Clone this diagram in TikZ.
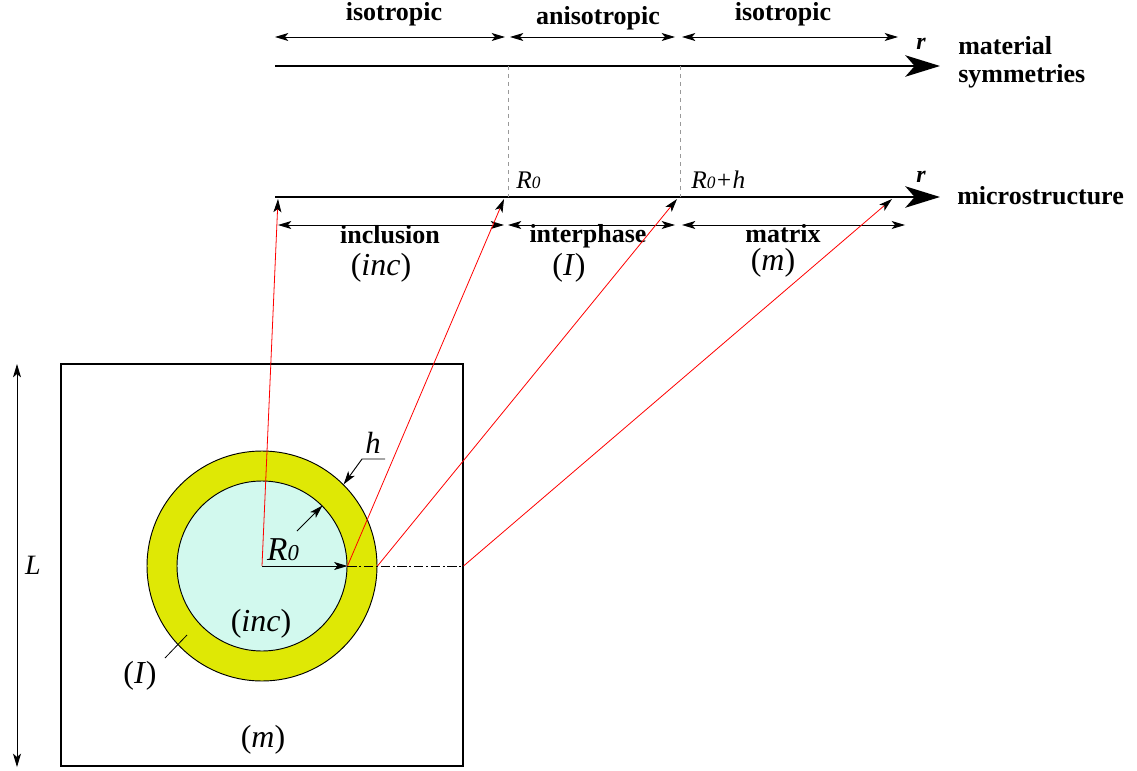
\documentclass[tikz,border=0pt]{standalone}
\usepackage{fontspec}
\setmainfont{Liberation Serif}
\usetikzlibrary{arrows.meta}
\definecolor{ringyellow}{HTML}{DFE805}
\definecolor{incblue}{HTML}{D2F9EE}
\tikzset{
	dimarrow/.style={line width=0.7pt, {Stealth[length=10pt,width=6pt,inset=2.5pt]}-{Stealth[length=10pt,width=6pt,inset=2.5pt]}},
	axisline/.style={line width=2pt, -{Stealth[length=26pt,width=16pt,inset=7pt]}},
	ray/.style={red, line width=0.6pt, -{Stealth[length=10pt,width=6pt,inset=2.5pt,color=black]}},
	guide/.style={gray!80, dashed, line width=0.5pt},
	pointer/.style={line width=0.7pt, -{Stealth[length=10pt,width=6pt,inset=2.5pt]}},
	boldlab/.style={anchor=base, inner sep=0pt, font=\fontsize{19.5}{22}\selectfont\bfseries},
	phase/.style={anchor=base, inner sep=0pt, font=\fontsize{24}{26}\selectfont},
	sym/.style={anchor=base, inner sep=0pt, font=\fontsize{19}{21}\selectfont\itshape}
}
\newcommand{\Rzero}[1]{R{\fontsize{#1}{#1}\selectfont 0}}
\begin{document}
\begin{tikzpicture}[x=0.75pt, y=-0.75pt]
	\useasboundingbox (0,0) rectangle (1137,770);
	% Paths, nodes and wires:
	\coordinate (S0) at (275,66); \coordinate (S1) at (940,66);
	\coordinate (M0) at (275,197); \coordinate (M1) at (940,197);
	\coordinate (GR) at (508,66); \coordinate (GRh) at (680,66);
	\coordinate (MR) at (508,197); \coordinate (MRh) at (680,197);
	\draw[axisline] (S0) -- (S1);
	\draw[axisline] (M0) -- (M1);
	\draw[guide] (GR) -- (MR);
	\draw[guide] (GRh) -- (MRh);
	\coordinate (ia) at (275,37); \coordinate (ib) at (505,37);
	\coordinate (aa) at (510,37); \coordinate (ab) at (675,37);
	\coordinate (ja) at (682,37); \coordinate (jb) at (898,37);
	\draw[dimarrow] (ia) -- (ib);
	\draw[dimarrow] (aa) -- (ab);
	\draw[dimarrow] (ja) -- (jb);
	\coordinate (ca) at (278,225); \coordinate (cb) at (504,225);
	\coordinate (pa) at (508,225); \coordinate (pb) at (675,225);
	\coordinate (ma) at (682,225); \coordinate (mb) at (905,225);
	\draw[dimarrow] (ca) -- (cb);
	\draw[dimarrow] (pa) -- (pb);
	\draw[dimarrow] (ma) -- (mb);
	\node[boldlab] (iso1) at (394,21) {isotropic};
	\node[boldlab] (aniso) at (598,25) {anisotropic};
	\node[boldlab] (iso2) at (783,21) {isotropic};
	\node[boldlab, font=\fontsize{18}{20}\selectfont\bfseries\itshape] (r1) at (921,50) {r};
	\node[boldlab, font=\fontsize{18}{20}\selectfont\bfseries\itshape] (r2) at (921,182) {r};
	\node[boldlab, anchor=base west] (mat) at (958,55) {material};
	\node[boldlab, anchor=base west] (symm) at (958,83) {symmetries};
	\node[boldlab, anchor=base west] (micro) at (957,204) {microstructure};
	\node[sym, anchor=base west] (lR0) at (516,188) {\Rzero{13}};
	\node[sym, anchor=base west] (lR0h) at (691,188) {\Rzero{13}+h};
	\node[boldlab] (incl) at (390,243) {inclusion};
	\node[boldlab] (inter) at (588,242) {interphase};
	\node[boldlab] (matr) at (783,242) {matrix};
	\node[phase] (tinc) at (381,275) {(\textit{inc})};
	\node[phase] (tI) at (569,275) {(\textit{I})};
	\node[phase] (tm) at (773,270) {(\textit{m})};
	% cell
	\node[draw, line width=0.8pt, minimum size=301.5pt, inner sep=0pt] (cell) at (262,565) {};
	\node[circle, draw, line width=0.7pt, fill=ringyellow, minimum size=172.5pt, inner sep=0pt] (ring) at (262,566) {};
	\node[circle, draw, line width=0.7pt, fill=incblue, minimum size=127.5pt, inner sep=0pt] (inc) at (262,566) {};
	\coordinate (ctr) at (262,566);
	\coordinate (Lt) at (17,364); \coordinate (Lb) at (17,767);
	\draw[dimarrow] (Lt) -- (Lb);
	\node[sym, font=\fontsize{21}{23}\selectfont\itshape] (lL) at (33,574) {L};
	\draw[pointer] (ctr) -- (inc.east);
	\node[sym, font=\fontsize{25}{27}\selectfont\itshape] (lR0c) at (283,560) {\Rzero{17}};
	\coordinate (hin) at (297,531);
	\draw[pointer] (hin) -- (inc.45);
	\coordinate (hbar) at (385,459); \coordinate (hknee) at (362,459);
	\draw[pointer] (hbar) -- (hknee) -- (ring.45);
	\node[sym, font=\fontsize{23}{25}\selectfont\itshape] (lh) at (373,453) {h};
	\coordinate (Ilead) at (165,658); \coordinate (Iring) at (187,635);
	\draw[line width=0.6pt] (Ilead) -- (Iring);
	\node[phase] (cI) at (140,683) {(\textit{I})};
	\node[phase] (cinc) at (261,631) {(\textit{inc})};
	\node[phase] (cm) at (263,747) {(\textit{m})};
	\draw[line width=0.7pt, dash pattern=on 7pt off 2pt on 1.5pt off 2pt] (inc.east) -- (cell.east |- ctr);
	% rays to the r axis
	\coordinate (t1) at (278,199); \coordinate (t2) at (504,199);
	\coordinate (t3) at (677,199); \coordinate (t4) at (892,199);
	\draw[ray] (ctr) -- (t1);
	\draw[ray] (inc.east) -- (t2);
	\draw[ray] (ring.east) -- (t3);
	\draw[ray] (cell.east |- ctr) -- (t4);
\end{tikzpicture}
\end{document}
